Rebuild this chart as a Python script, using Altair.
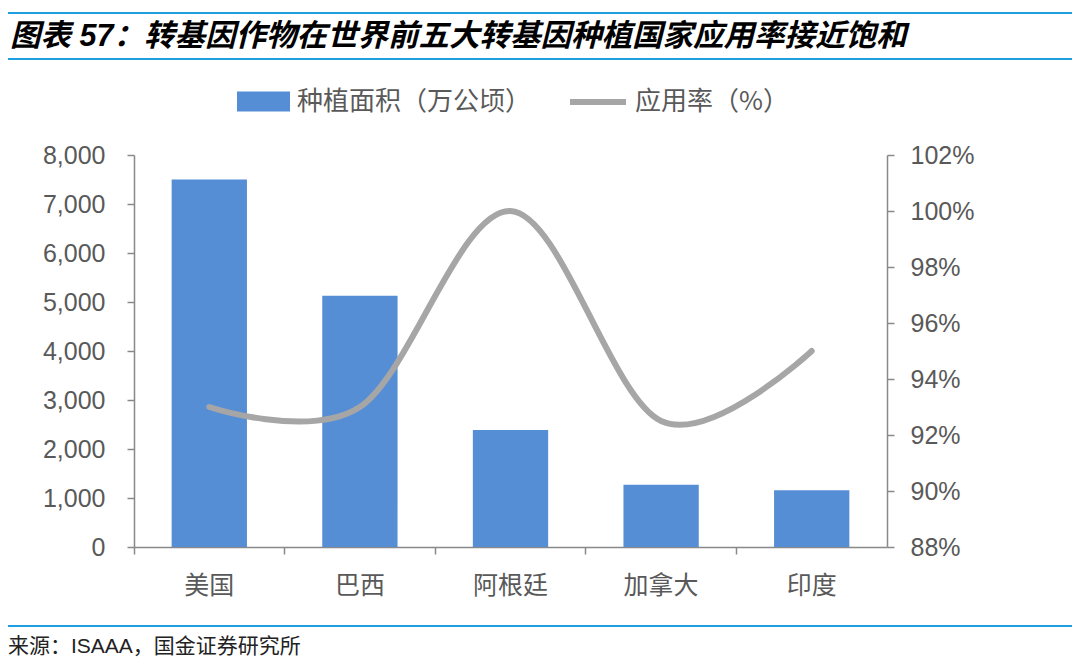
import altair as alt
import pandas as pd

countries = ["美国", "巴西", "阿根廷", "加拿大", "印度"]
area = [7500, 5130, 2390, 1270, 1160]
rate = [0.93, 0.93, 1.00, 0.925, 0.95]
left_ticks = [0, 1000, 2000, 3000, 4000, 5000, 6000, 7000, 8000]
right_ticks = [0.88, 0.90, 0.92, 0.94, 0.96, 0.98, 1.00, 1.02]
title_text = "图表 57：转基因作物在世界前五大转基因种植国家应用率接近饱和"
source_text = "来源：ISAAA，国金证券研究所"
bar_name = "种植面积（万公顷）"
line_name = "应用率（%）"

df = pd.DataFrame({"国家": countries, "面积": area, "应用率": rate,
                   "s1": [bar_name] * len(countries), "s2": [line_name] * len(countries)})

LAT = "Liberation Sans, Arial, Noto Sans CJK SC, sans-serif"
CJK = "Noto Sans CJK SC, sans-serif"
AXC = "#898989"
LBC = "#595959"
BLUE = "#558ED5"
GRAY = "#A6A6A6"
RULE = "#1E9FE0"

x_enc = alt.X(
    "国家:N", sort=countries,
    scale=alt.Scale(paddingInner=0, paddingOuter=0),
    axis=alt.Axis(title=None, labelAngle=0, bandPosition=0, tickSize=7,
                  domainColor=AXC, tickColor=AXC, domainWidth=1.5, tickWidth=1.5,
                  labelFont=CJK, labelFontSize=25, labelColor=LBC, labelPadding=19),
)

bars = alt.Chart(df).mark_bar(width=alt.RelativeBandSize(0.5)).encode(
    x=x_enc,
    y=alt.Y("面积:Q", scale=alt.Scale(domain=[0, 8000], nice=False),
            axis=alt.Axis(title=None, values=left_ticks, format=",.0f", grid=False,
                          tickSize=7, domainColor=AXC, tickColor=AXC,
                          domainWidth=1.5, tickWidth=1.5,
                          labelFont=LAT, labelFontSize=25, labelColor=LBC,
                          labelPadding=22)),
    fill=alt.Fill("s1:N", scale=alt.Scale(range=[BLUE]),
                  legend=alt.Legend(title=None, orient="none", legendX=103, legendY=-80,
                                    direction="horizontal", padding=0,
                                    symbolType="M-1,-0.38H1V0.38H-1Z", symbolSize=2809,
                                    symbolStrokeWidth=0, symbolOpacity=1,
                                    labelFont=CJK, labelFontSize=26, labelLimit=400,
                                    labelColor=LBC, labelOffset=7)),
)

line = alt.Chart(df).mark_line(strokeWidth=6, interpolate="cardinal", strokeCap="round").encode(
    x=alt.X("国家:N", sort=countries),
    y=alt.Y("应用率:Q", scale=alt.Scale(domain=[0.88, 1.02], nice=False),
            axis=alt.Axis(title=None, orient="right", values=right_ticks, format=".0%",
                          grid=False, tickSize=7, domainColor=AXC, tickColor=AXC,
                          domainWidth=1.5, tickWidth=1.5,
                          labelFont=LAT, labelFontSize=25, labelColor=LBC,
                          labelPadding=16)),
    stroke=alt.Stroke("s2:N", scale=alt.Scale(range=[GRAY]),
                      legend=alt.Legend(title=None, orient="none", legendX=433, legendY=-84,
                                        direction="horizontal", padding=0,
                                        symbolType="stroke", symbolSize=3136,
                                        symbolStrokeWidth=6, labelFont=CJK, labelFontSize=26,
                                        labelLimit=400, labelColor=LBC, labelOffset=6)),
)

one = alt.Data(values=[{}])

rule_top = alt.Chart(one).mark_rule(color=RULE, strokeWidth=2).encode(
    x=alt.value(-131), x2=alt.value(946), y=alt.value(-142))
rule_mid = alt.Chart(one).mark_rule(color=RULE, strokeWidth=2).encode(
    x=alt.value(-131), x2=alt.value(946), y=alt.value(-96))
rule_bot = alt.Chart(one).mark_rule(color=RULE, strokeWidth=2).encode(
    x=alt.value(-128), x2=alt.value(946), y=alt.value(471))

title = alt.Chart(one).mark_text(
    align="left", baseline="middle", font=LAT, fontSize=30.5, fontWeight="bold",
    fontStyle="italic", color="#000000"
).encode(x=alt.value(-124), y=alt.value(-118), text=alt.value(title_text))

source = alt.Chart(one).mark_text(
    align="left", baseline="middle", font=LAT, fontSize=21, color="#222222"
).encode(x=alt.value(-126), y=alt.value(492), text=alt.value(source_text))

chart = alt.layer(bars, line, rule_top, rule_mid, rule_bot, title, source).resolve_scale(
    y="independent"
).properties(
    width=753, height=392,
    padding={"left": 126, "top": 147, "right": 185, "bottom": 112},
    autosize=alt.AutoSizeParams(type="none"),
).configure_view(stroke=None)

chart.save("out.html", embed_options={"renderer": "svg", "actions": False})
